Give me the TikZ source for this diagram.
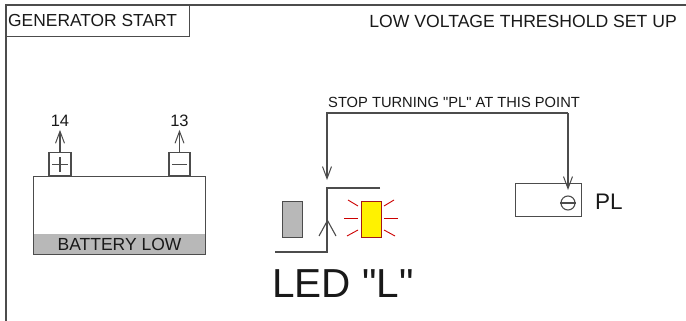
\documentclass[tikz,border=0pt]{standalone}
\usepackage{fontspec}
\newfontfamily\plainfont{Liberation Sans}
\usetikzlibrary{arrows.meta}
\tikzset{
    wire/.style={draw=black!70, line width=1.1pt},
    arrowwire/.style={wire, -{Straight Barb[length=12pt,width=9pt,line width=1pt]}},
    box/.style={draw=black!70, line width=1.1pt, rectangle, inner sep=0pt},
    ray/.style={draw=red!80!black, line width=0.9pt},
    txt/.style={inner sep=0pt, text=black!90},
}
\newcommand{\fs}[1]{\plainfont\fontsize{#1}{#1}\selectfont}
\begin{document}
\begin{tikzpicture}[x=1pt,y=-1pt]
    \useasboundingbox (0,0) rectangle (686,321);
    % frame
    \coordinate (frameTR) at (686,5);
    \coordinate (frameTL) at (6,5);
    \coordinate (frameBL) at (6,321);
    \draw [wire] (frameTR) -- (frameTL) -- (frameBL);
    % titles
    \node [box, anchor=north west, minimum width=183pt, minimum height=31pt] (title) at (6,5) {};
    \node [txt, anchor=west, font=\fs{17.4}] (titletext) at (8,20.5) {GENERATOR START};
    \node [txt, anchor=east, font=\fs{17.6}] (subtitle) at (677,21) {LOW VOLTAGE THRESHOLD SET UP};

    % battery
    \fill [black!28] (34,234) rectangle (205,253.5);
    \node [box, anchor=north west, minimum width=172pt, minimum height=78pt] (batt) at (33,176) {};
    \node [txt, font=\fs{17.5}] (battlabel) at (119.5,244.5) {BATTERY LOW};
    \node [box, anchor=south, minimum width=22pt, minimum height=23pt] (plus) at (60,176) {};
    \node [box, anchor=south, minimum width=21pt, minimum height=23pt] (minus) at (179.5,176) {};
    \draw [wire] (52,164.5) -- (68,164.5);
    \draw [wire] (60,157) -- (60,172);
    \draw [wire] (172,164.5) -- (187,164.5);
    \node [txt, font=\fs{16.5}] (n14) at (60,121) {14};
    \node [txt, font=\fs{16.5}] (n13) at (179.5,121) {13};
    \draw [arrowwire] (plus.north) -- ++(0,-22);
    \draw [arrowwire] (minus.north) -- ++(0,-22);

    % lever and LED
    \node [box, fill=black!28, anchor=north west, minimum width=20pt, minimum height=36pt] (shutter) at (282,201) {};
    \node [draw=red!60!black!90, line width=1.1pt, fill=yellow, rectangle, inner sep=0pt, anchor=north west, minimum width=19.5pt, minimum height=36pt] (led) at (361,201) {};
    \foreach \a/\b/\c/\d in {348/200/358/206, 344/218/358/218, 347/236/358/230, 384/206/394/200, 384/218/398/218, 384/230/395/236}{
        \draw [ray] (\a,\b) -- (\c,\d);
    }
    \coordinate (stepA) at (380,188);
    \coordinate (stepB) at (327,188);
    \coordinate (stepC) at (327,252);
    \coordinate (stepD) at (275,252);
    \draw [wire] (stepA) -- (stepB) -- (stepC) -- (stepD);
    \draw [wire] (319,236) -- (327.5,220.5) -- (336,236);
    \node [txt, font=\fs{40.5}] (ledlabel) at (343,284) {LED "L"};

    % PL box
    \node [box, anchor=north west, minimum width=66pt, minimum height=33pt] (pl) at (515,183) {};
    \node [draw=black!70, line width=1.1pt, circle, inner sep=0pt, minimum size=14pt] (knob) at (568,203) {};
    \draw [wire] (knob.west) -- (knob.east);
    \node [txt, font=\fs{22.5}, anchor=west] (pllabel) at (595,202) {PL};

    % pointer
    \coordinate (ptrL) at (327,113);
    \coordinate (ptrR) at (568,113);
    \coordinate (ptrLend) at (327,180);
    \coordinate (ptrRend) at (568,190);
    \draw [arrowwire] (ptrR) -- (ptrRend);
    \draw [arrowwire] (ptrR) -- (ptrL) -- (ptrLend);
    \node [txt, font=\fs{14.7}, anchor=west] (stoplabel) at (328,102) {STOP TURNING "PL" AT THIS POINT};
\end{tikzpicture}
\end{document}
